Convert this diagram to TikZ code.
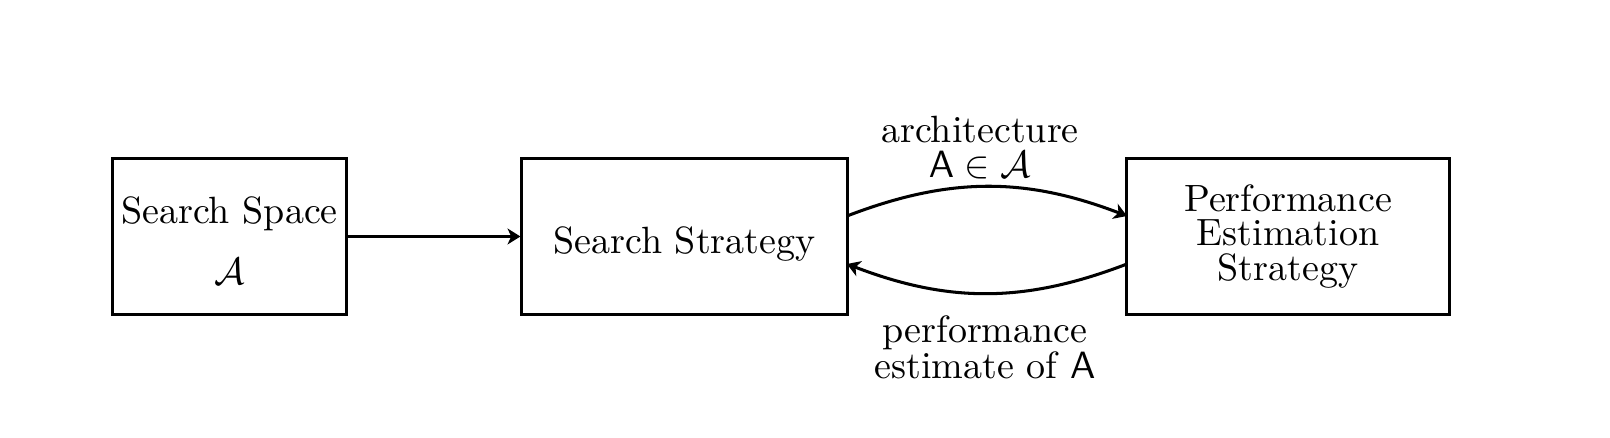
\documentclass[tikz,border=0pt]{standalone}
\usetikzlibrary{arrows.meta}
\begin{document}
\begin{tikzpicture}[x=0.00925cm,y=-0.00925cm,
  box/.style={draw,line width=0.8pt,inner sep=0pt,align=center,minimum height=1.434cm},
  conn/.style={line width=0.8pt,-{Stealth[length=3.4pt,width=4.2pt,inset=1pt]}},
  lbl/.style={align=center,inner sep=0pt}]
\useasboundingbox (0,0) rectangle (1610,438);
\node[box,minimum width=2.155cm] (ss) at (229.5,236.5) {\raisebox{-2.2pt}[\height][\depth]{\begin{tabular}{@{}c@{}}Search Space\\[4pt] $\mathcal{A}$\end{tabular}}};
\node[box,minimum width=3.006cm] (st) at (684.5,236.5) {\raisebox{-1.9pt}[\height][\depth]{Search Strategy}};
\node[box,minimum width=2.979cm] (pe) at (1288,236.5) {Performance\\[-3pt] Estimation\\[-3pt] Strategy};
\coordinate (t1) at (847,216);
\coordinate (t2) at (1127,216);
\coordinate (b1) at (1127,264);
\coordinate (b2) at (847,264);
\draw[conn] (ss.east) -- (st.west);
\draw[conn] (t1) to[bend left=21] (t2);
\draw[conn] (b1) to[bend left=21] (b2);
\node[lbl] (l1) at (980,147.5) {architecture\\[-3pt] $\mathsf{A}\in\mathcal{A}$};
\node[lbl] (l2) at (985,347) {performance\\[-2.5pt] estimate of $\mathsf{A}$};
\end{tikzpicture}
\end{document}
